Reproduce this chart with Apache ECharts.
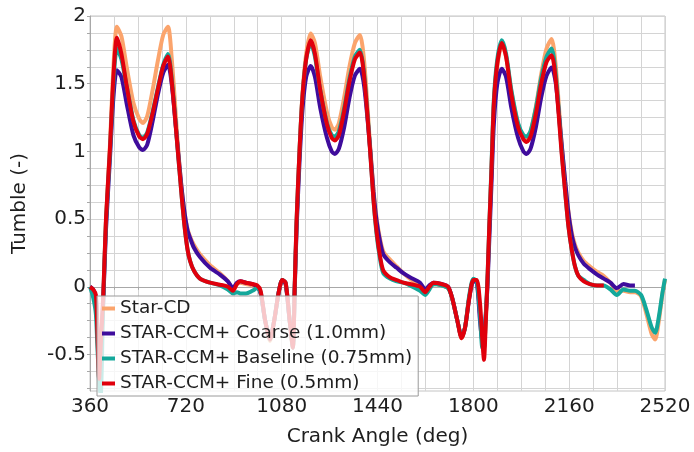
<!DOCTYPE html>
<html>
<head>
<meta charset="utf-8">
<script src="https://cdn.jsdelivr.net/npm/echarts@6/dist/echarts.min.js"></script>
<style>
html,body{margin:0;padding:0;background:#fff;}
#chart{width:694px;height:452px;}
</style>
</head>
<body>
<div id="chart"></div>
<script>
const angles = [
  360, 372, 382, 388, 394, 400, 410, 420, 435, 448,
  461, 478, 498, 523, 545, 559, 575, 595, 615, 635,
  653, 668, 690, 703, 715, 726, 736, 750, 773, 811,
  848, 878, 897, 912, 925, 946, 970, 988, 1001, 1018,
  1036, 1052, 1068, 1082, 1095, 1110, 1122, 1129, 1136, 1147,
  1158, 1172, 1189, 1205, 1225, 1250, 1268, 1280, 1295, 1315,
  1335, 1355, 1374, 1390, 1412, 1425, 1437, 1450, 1462, 1487,
  1512, 1537, 1562, 1600, 1619, 1635, 1650, 1680, 1705, 1720,
  1740, 1756, 1769, 1785, 1800, 1813, 1825, 1834, 1840, 1847,
  1853, 1860, 1868, 1877, 1890, 1907, 1923, 1943, 1968, 1988,
  2000, 2015, 2035, 2055, 2075, 2094, 2110, 2132, 2145, 2157,
  2170, 2182, 2195, 2215, 2238, 2265, 2290, 2315, 2339, 2364,
  2389, 2407, 2430, 2450, 2470, 2483, 2497, 2510, 2520
];

const starCD = [
  0, -0.03, -0.10, -0.35, -0.60, -0.50, -0.10, 0.48, 1.05, 1.62,
  1.92, 1.85, 1.62, 1.36, 1.24, 1.21, 1.26, 1.45, 1.67, 1.86,
  1.92, 1.66, 1.05, 0.75, 0.55, 0.43, 0.37, 0.31, 0.24, 0.16,
  0.10, 0.04, -0.02, 0.02, 0.03, 0.02, 0.01, 0.0, -0.05, -0.25,
  -0.40, -0.25, -0.05, 0.04, 0.02, -0.25, -0.45, -0.02, 0.45, 1.0,
  1.42, 1.72, 1.87, 1.80, 1.55, 1.29, 1.18, 1.16, 1.21, 1.40,
  1.63, 1.80, 1.86, 1.66, 1.05, 0.72, 0.50, 0.35, 0.26, 0.20,
  0.15, 0.10, 0.06, 0.0, -0.05, -0.01, 0.02, 0.01, -0.01, -0.08,
  -0.25, -0.38, -0.30, -0.07, 0.04, 0.04, -0.20, -0.42, -0.45, -0.22,
  0.02, 0.42, 0.85, 1.33, 1.63, 1.79, 1.70, 1.44, 1.20, 1.11,
  1.10, 1.15, 1.33, 1.57, 1.76, 1.83, 1.62, 1.05, 0.78, 0.56,
  0.40, 0.31, 0.25, 0.19, 0.15, 0.11, 0.08, 0.03, -0.03, -0.03,
  -0.04, -0.04, -0.07, -0.20, -0.35, -0.39, -0.25, -0.06, 0.05
];

const coarse = [
  0, -0.02, -0.08, -0.30, -0.55, -0.45, -0.10, 0.42, 0.95, 1.40,
  1.60, 1.55, 1.35, 1.12, 1.03, 1.01, 1.05, 1.22, 1.42, 1.58,
  1.64, 1.48, 1.02, 0.75, 0.55, 0.42, 0.36, 0.29, 0.22, 0.14,
  0.09, 0.04, -0.01, 0.03, 0.04, 0.03, 0.02, 0.0, -0.05, -0.25,
  -0.38, -0.25, -0.05, 0.05, 0.02, -0.25, -0.42, -0.02, 0.42, 0.92,
  1.30, 1.55, 1.63, 1.55, 1.32, 1.10, 1.00, 0.98, 1.02, 1.18,
  1.40, 1.56, 1.61, 1.48, 1.03, 0.70, 0.48, 0.33, 0.24, 0.18,
  0.14, 0.10, 0.07, 0.03, -0.02, 0.01, 0.03, 0.02, 0.0, -0.08,
  -0.25, -0.37, -0.30, -0.08, 0.04, 0.03, -0.25, -0.40, -0.35, -0.20,
  0.0, 0.35, 0.75, 1.20, 1.50, 1.61, 1.55, 1.32, 1.10, 1.00,
  0.98, 1.02, 1.18, 1.40, 1.56, 1.62, 1.50, 1.05, 0.78, 0.55,
  0.38, 0.29, 0.23, 0.17, 0.13, 0.09, 0.06, 0.03, -0.01, 0.02,
  0.01, 0.01, null, null, null, null, null, null, null
];

const baseline = [
  0, -0.08, -0.20, -0.45, -0.70, -0.80, -0.08, 0.48, 1.00, 1.50,
  1.76, 1.68, 1.48, 1.23, 1.12, 1.10, 1.14, 1.29, 1.47, 1.64,
  1.72, 1.52, 1.00, 0.70, 0.45, 0.28, 0.19, 0.12, 0.06, 0.03,
  0.01, -0.02, -0.05, -0.04, -0.05, -0.05, -0.03, -0.01, -0.04, -0.25,
  -0.39, -0.25, -0.05, 0.05, 0.03, -0.25, -0.45, 0.0, 0.48, 1.0,
  1.40, 1.68, 1.80, 1.70, 1.45, 1.21, 1.12, 1.11, 1.15, 1.32,
  1.54, 1.70, 1.75, 1.57, 1.02, 0.64, 0.38, 0.20, 0.10, 0.06,
  0.04, 0.03, 0.01, -0.03, -0.06, -0.02, 0.02, 0.01, -0.01, -0.08,
  -0.25, -0.37, -0.30, -0.06, 0.06, 0.04, -0.20, -0.45, -0.45, -0.20,
  0.05, 0.45, 0.88, 1.38, 1.68, 1.82, 1.72, 1.45, 1.21, 1.12,
  1.11, 1.15, 1.32, 1.54, 1.70, 1.76, 1.56, 1.00, 0.70, 0.45,
  0.27, 0.15, 0.08, 0.05, 0.02, 0.01, 0.01, -0.02, -0.06, -0.02,
  -0.03, -0.03, -0.06, -0.17, -0.30, -0.34, -0.22, -0.05, 0.06
];

const fine = [
  0, -0.02, -0.06, -0.35, -0.68, -0.45, -0.05, 0.50, 1.02, 1.55,
  1.84, 1.72, 1.48, 1.22, 1.11, 1.09, 1.13, 1.28, 1.46, 1.63,
  1.70, 1.50, 1.00, 0.70, 0.45, 0.28, 0.19, 0.12, 0.06, 0.03,
  0.015, 0.0, -0.03, 0.02, 0.04, 0.03, 0.02, 0.01, -0.03, -0.25,
  -0.39, -0.25, -0.05, 0.05, 0.03, -0.25, -0.45, 0.0, 0.49, 1.0,
  1.40, 1.68, 1.82, 1.72, 1.45, 1.20, 1.10, 1.08, 1.12, 1.30,
  1.52, 1.68, 1.73, 1.55, 1.01, 0.64, 0.40, 0.22, 0.12, 0.07,
  0.05, 0.03, 0.02, 0.0, -0.04, 0.0, 0.03, 0.02, 0.0, -0.08,
  -0.25, -0.38, -0.30, -0.08, 0.05, 0.05, -0.12, -0.40, -0.54, -0.25,
  0.05, 0.45, 0.85, 1.35, 1.65, 1.80, 1.70, 1.42, 1.18, 1.09,
  1.07, 1.11, 1.28, 1.50, 1.66, 1.71, 1.52, 0.98, 0.70, 0.45,
  0.27, 0.15, 0.08, 0.04, 0.02, 0.01, 0.01, null, null, null,
  null, null, null, null, null, null, null, null, null
];

const seriesNames = [
  'Star-CD',
  'STAR-CCM+ Coarse (1.0mm)',
  'STAR-CCM+ Baseline (0.75mm)',
  'STAR-CCM+ Fine (0.5mm)'
];
const seriesValues = [starCD, coarse, baseline, fine];
const seriesColors = ['#FBA46C', '#3F0C9C', '#14A89B', '#E0000C'];

const xLabelValues = [360, 720, 1080, 1440, 1800, 2160, 2520];
const yLabelValues = [-0.5, 0, 0.5, 1, 1.5, 2];
const yGridValues = [-0.75, -0.625, -0.5, -0.375, -0.25, -0.125, 0, 0.125, 0.25, 0.375,
  0.5, 0.625, 0.75, 0.875, 1, 1.125, 1.25, 1.375, 1.5, 1.625, 1.75, 1.875, 2];

seriesValues.forEach((v, i) => {
  if (v.length !== angles.length) throw new Error('length mismatch ' + seriesNames[i] + ' ' + v.length);
});

const FONT = 'DejaVu Sans';
const chart = echarts.init(document.getElementById('chart'), null, {renderer: 'canvas'});

const series = seriesValues.map((vals, i) => ({
  name: seriesNames[i],
  type: 'line',
  data: angles.map((a, j) => [a, vals[j]]).filter(p => p[1] !== null),
  showSymbol: false,
  smooth: 0.25,
  clip: true,
  z: 2,
  lineStyle: {width: 4, color: seriesColors[i]},
  itemStyle: {color: seriesColors[i]}
}));

chart.setOption({
  animation: false,
  backgroundColor: '#ffffff',
  textStyle: {fontFamily: FONT},
  grid: {
    left: 90, right: 29, top: 16, bottom: 61,
    show: true, borderColor: '#c4c4c4', borderWidth: 1
  },
  legend: {
    orient: 'vertical',
    left: 97, top: 296,
    z: 20,
    data: seriesNames,
    icon: 'rect',
    itemWidth: 13, itemHeight: 4,
    itemGap: 6,
    padding: [3, 6, 3, 5],
    backgroundColor: 'rgba(255,255,255,0.78)',
    borderColor: '#9a9a9a', borderWidth: 1,
    textStyle: {fontFamily: FONT, fontSize: 18.5, color: '#1e1e1e', lineHeight: 18}
  },
  xAxis: {
    type: 'value',
    min: 360, max: 2520, interval: 90,
    name: 'Crank Angle (deg)',
    nameLocation: 'middle', nameGap: 36,
    nameTextStyle: {fontFamily: FONT, fontSize: 20, color: '#1e1e1e'},
    axisLine: {show: true, lineStyle: {color: '#a8a8a8', width: 1}},
    axisTick: {show: true, length: 3, lineStyle: {color: '#a8a8a8'}},
    axisLabel: {
      customValues: xLabelValues,
      formatter: v => String(v),
      fontFamily: FONT, fontSize: 20, color: '#1e1e1e', margin: 6
    },
    splitLine: {show: true, lineStyle: {color: '#d4d4d4', width: 1}}
  },
  yAxis: {
    type: 'value',
    min: -0.77, max: 2,
    name: 'Tumble (-)',
    nameLocation: 'middle', nameGap: 60,
    nameTextStyle: {fontFamily: FONT, fontSize: 20, color: '#1e1e1e'},
    axisLine: {show: true, lineStyle: {color: '#a8a8a8', width: 1}},
    axisTick: {show: true, length: 3, customValues: yGridValues, lineStyle: {color: '#a8a8a8'}},
    axisLabel: {
      customValues: yLabelValues,
      formatter: v => String(v),
      fontFamily: FONT, fontSize: 20, color: '#1e1e1e', margin: 4
    },
    splitLine: {show: true, lineStyle: {color: '#d4d4d4', width: 1}}
  },
  series: series
});
</script>
</body>
</html>
